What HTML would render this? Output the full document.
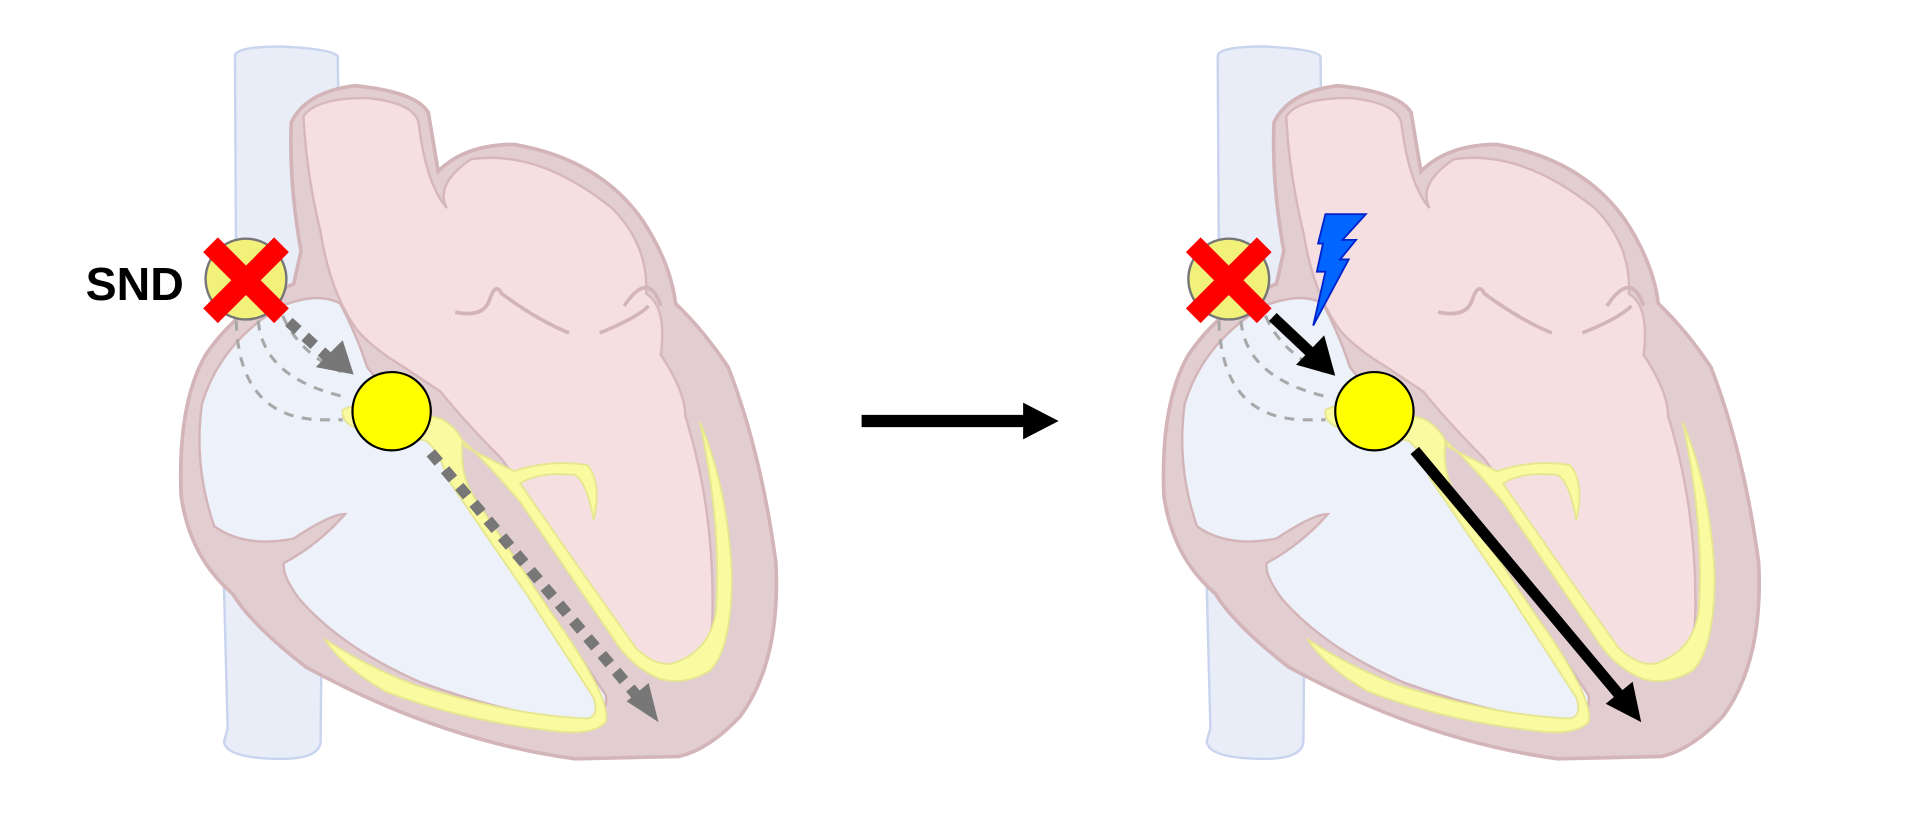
<!DOCTYPE html>
<html><head><meta charset="utf-8"><style>html,body{margin:0;padding:0;background:#fff;}svg{display:block}</style></head>
<body>
<svg width="1919" height="828" viewBox="0 0 1568 676.5" preserveAspectRatio="none" xmlns="http://www.w3.org/2000/svg">
<defs>
<g id="heart">
  <!-- vena cava -->
  <path d="M192,46 Q192,38 230,38 Q272,40 276,46 L278,230 L265,240 L262,605 Q262,620 230,620 Q185,620 183,606 L186,595 L182,440 L193,235 Z" fill="#e8edf8" stroke="#c9d5ee" stroke-width="2"/>
  <!-- outer heart -->
  <path d="M238,100 Q250,75 290,70 Q340,75 350,92 L358,140 Q380,118 420,118 Q490,130 525,180 Q548,215 552,248 Q575,270 595,300 Q622,370 634,460 Q638,540 605,585 Q580,612 555,618 L470,620 Q360,605 250,545 Q205,510 190,485 Q155,455 148,405 Q145,330 168,290 Q195,250 240,232 L246,205 Q236,150 238,100 Z" fill="#e2ced1" stroke="#d3b5b9" stroke-width="3"/>
  <!-- pink chambers -->
  <path d="M248,95 Q258,80 300,80 Q338,84 342,100 Q348,150 365,170 Q355,150 385,130 Q440,122 500,170 Q530,200 528,240 Q545,250 540,290 Q560,320 560,340 Q585,420 582,510 Q575,545 548,548 Q520,540 505,510 L410,375 Q380,345 360,320 L330,300 Q305,285 292,270 Q270,240 262,190 Q250,140 248,95 Z" fill="#f5dfe0" stroke="#d6b8bc" stroke-width="2"/>
  <path d="M372,255 Q395,260 400,245 Q405,230 410,240 Q440,262 465,272 M490,272 Q520,260 530,250 M510,250 Q530,220 540,250" fill="none" stroke="#d3b5b9" stroke-width="3"/>
  <!-- blue interior -->
  <path d="M175,430 Q158,380 165,330 Q180,280 230,250 Q260,238 278,248 Q292,275 300,300 Q320,325 345,350 L370,380 L430,470 Q470,530 495,568 Q498,588 470,588 Q420,585 345,558 Q280,530 245,490 Q230,470 232,460 Q260,445 282,420 Q270,420 240,440 Q200,448 175,430 Z" fill="#ecf1fa" stroke="#d3b5b9" stroke-width="2"/>
  <!-- dashed internodal -->
  <path d="M211,262 Q215,310 285,325 M231,258 Q245,290 282,305 M193,262 Q195,340 260,343 L280,343" fill="none" stroke="#a8a8a8" stroke-width="2.5" stroke-dasharray="8,7"/>
  <!-- yellow conduction -->
  <path d="M280,335 Q300,325 330,334 L360,342 Q375,350 380,365 L420,385 Q450,375 480,380 Q492,395 485,425 Q480,395 470,388 Q440,385 425,395 Q470,460 520,530 Q540,548 555,540 Q580,530 585,500 Q590,430 572,345 Q595,400 598,470 Q598,530 580,548 Q560,560 540,555 Q515,545 500,520 L425,410 Q395,375 378,360 Q375,390 390,410 L450,500 Q500,570 495,590 Q485,600 460,598 Q380,590 315,565 Q280,545 265,522 Q300,545 340,560 Q420,585 480,587 Q490,585 485,570 L430,485 Q385,420 365,390 Q360,370 348,360 Q320,356 300,352 Q278,348 280,335 Z" fill="#fafaa0" stroke="#e6e690" stroke-width="1.5"/>
  <!-- SA node -->
  <circle cx="201" cy="228" r="33" fill="#f2f27a" stroke="#777" stroke-width="2"/>
  <!-- red X -->
  <g stroke="#ff0000" stroke-width="17">
    <line x1="172" y1="200" x2="230" y2="258"/>
    <line x1="230" y1="200" x2="172" y2="258"/>
  </g>
  <!-- AV node -->
  <circle cx="320" cy="336" r="32" fill="#ffff00" stroke="#000" stroke-width="1.8"/>
</g>
</defs>
<use href="#heart"/>
<use href="#heart" transform="translate(803,0)"/>

<text x="70" y="245" font-family="Liberation Sans, sans-serif" font-weight="bold" font-size="38" fill="#000">SND</text>

<!-- left gray dotted arrows -->
<g stroke="#777" stroke-width="9" stroke-dasharray="10,8" fill="none">
  <line x1="236" y1="263" x2="268" y2="292"/>
  <line x1="352" y1="370" x2="520" y2="568"/>
</g>
<polygon points="289,306 258,300 280,278" fill="#777"/>
<polygon points="538,590 512,573 530,558" fill="#777"/>

<!-- middle arrow -->
<line x1="704" y1="344" x2="840" y2="344" stroke="#000" stroke-width="10"/>
<polygon points="865,344 836,329 836,359" fill="#000"/>

<!-- right black arrows -->
<line x1="1040" y1="259" x2="1075" y2="292" stroke="#000" stroke-width="9"/>
<polygon points="1091,307 1059,298 1082,274" fill="#000"/>
<line x1="1156" y1="368" x2="1325" y2="570" stroke="#000" stroke-width="9"/>
<polygon points="1341,590 1312,575 1334,557" fill="#000"/>

<!-- lightning -->
<polygon points="1083,175 1116,175 1097,196 1108,196 1095,212 1102,212 1073,266 1083,222 1076,222 1081,199 1077,199" fill="#0066ff" stroke="#0022cc" stroke-width="1.5"/>
</svg>
</body></html>
